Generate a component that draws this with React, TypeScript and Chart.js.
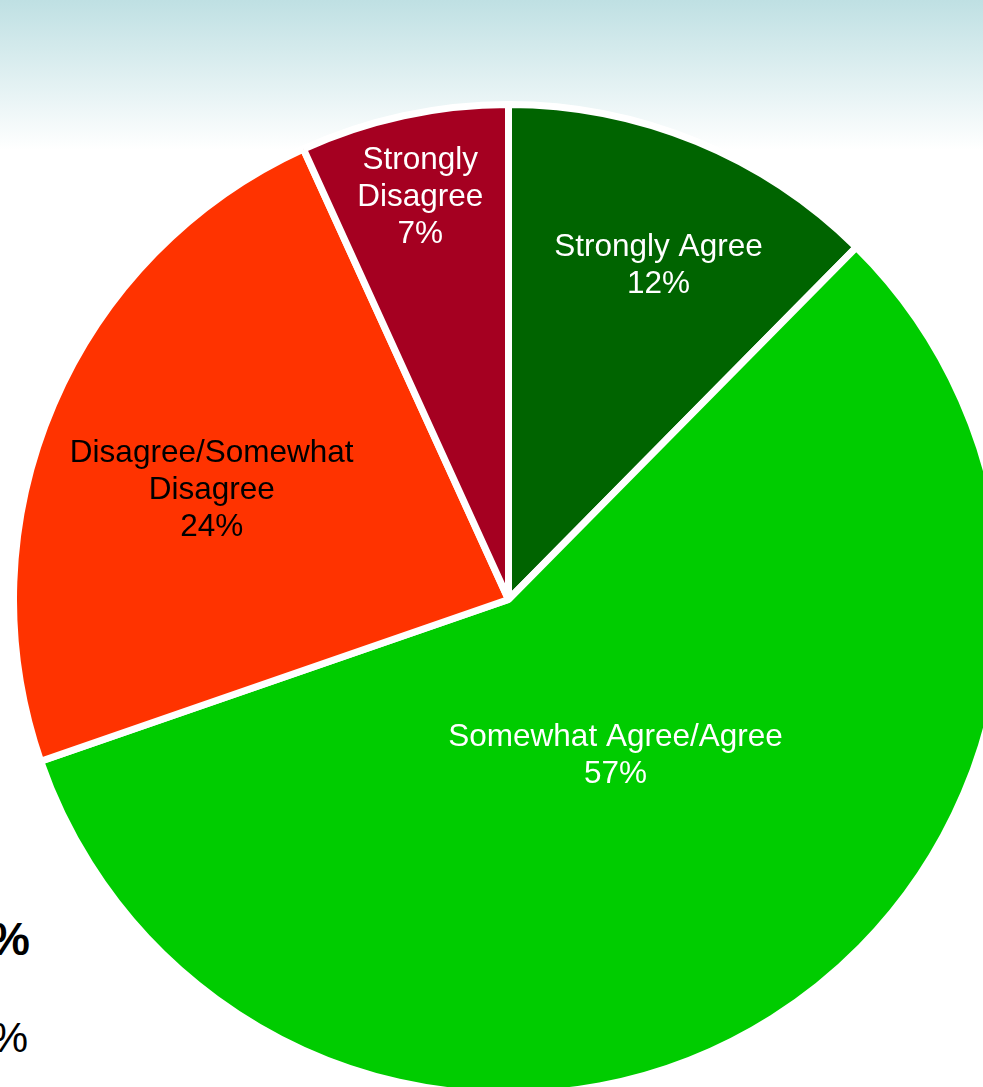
import React, { useEffect, useRef } from "react";
import { Chart, registerables } from "chart.js";

Chart.register(...registerables);

// ---- data ----
const categories = [
  "Strongly Agree",
  "Somewhat Agree/Agree",
  "Disagree/Somewhat Disagree",
  "Strongly Disagree",
];
const labelLines = [
  ["Strongly Agree"],
  ["Somewhat Agree/Agree"],
  ["Disagree/Somewhat", "Disagree"],
  ["Strongly", "Disagree"],
];
const values = [12.4, 57.3, 23.5, 6.8];
const sliceColors = ["#006400", "#00CC00", "#FF3300", "#A50021"];
const labelColors = ["#ffffff", "#ffffff", "#000000", "#ffffff"];

const sliceLabelPlugin = {
  id: "sliceLabels",
  afterDatasetsDraw(chart: any, _args: any, opts: any) {
    const meta = chart.getDatasetMeta(0);
    const ctx = chart.ctx;
    ctx.save();
    ctx.font = opts.font;
    ctx.textAlign = "center";
    ctx.textBaseline = "middle";
    meta.data.forEach((arc: any, i: number) => {
      const { x, y, outerRadius } = arc.getProps(["x", "y", "outerRadius"], true);
      const [deg, frac] = opts.anchors[i];
      const a = ((deg - 90) * Math.PI) / 180;
      const cx = x + Math.cos(a) * outerRadius * frac;
      const cy = y + Math.sin(a) * outerRadius * frac + opts.yShift;
      const lines = [...labelLines[i], Math.round(values[i]) + "%"];
      const lh = opts.lineHeight;
      const startY = cy - ((lines.length - 1) * lh) / 2;
      ctx.fillStyle = labelColors[i];
      lines.forEach((ln: string, k: number) => {
        ctx.fillText(ln, cx, startY + k * lh);
      });
    });
    ctx.restore();
  },
};

function PieChart() {
  const ref = useRef<HTMLCanvasElement | null>(null);
  useEffect(() => {
    if (!ref.current) return;
    const chart = new Chart(ref.current, {
      type: "pie",
      data: {
        labels: categories,
        datasets: [
          {
            data: values,
            backgroundColor: sliceColors,
            borderColor: "#ffffff",
            borderWidth: 7,
          },
        ],
      },
      options: {
        responsive: false,
        maintainAspectRatio: false,
        animation: false,
        layout: { padding: 0 },
        plugins: {
          legend: { display: false },
          tooltip: { enabled: false },
          sliceLabels: {
            font: '31.5px "Liberation Sans", Arial, sans-serif',
            lineHeight: 37,
            yShift: 3,
            anchors: [
              [24.0, 0.745],
              [145.0, 0.377],
              [290.7, 0.641],
              [347.7, 0.837],
            ],
          },
        } as any,
      },
      plugins: [sliceLabelPlugin],
    });
    return () => chart.destroy();
  }, []);
  return (
    <canvas
      ref={ref}
      width={997}
      height={997}
      style={{ position: "absolute", left: 10, top: 101, width: 997, height: 997 }}
    />
  );
}

export default function App() {
  return (
    <div
      style={{
        position: "absolute",
        left: 0,
        top: 0,
        width: 983,
        height: 1087,
        overflow: "hidden",
        background: "linear-gradient(to bottom, #bfe0e3 0px, #ffffff 150px, #ffffff 100%)",
      }}
    >
      <div
        style={{
          position: "absolute",
          left: -30,
          top: 916,
          width: 60,
          textAlign: "right",
          font: 'bold 46px "Liberation Sans", Arial, sans-serif',
          lineHeight: "46px",
          color: "#000",
        }}
      >
        %
      </div>
      <div
        style={{
          position: "absolute",
          left: -30,
          top: 1017,
          width: 58,
          textAlign: "right",
          font: '42px "Liberation Sans", Arial, sans-serif',
          lineHeight: "42px",
          color: "#000",
        }}
      >
        %
      </div>
      <PieChart />
    </div>
  );
}
